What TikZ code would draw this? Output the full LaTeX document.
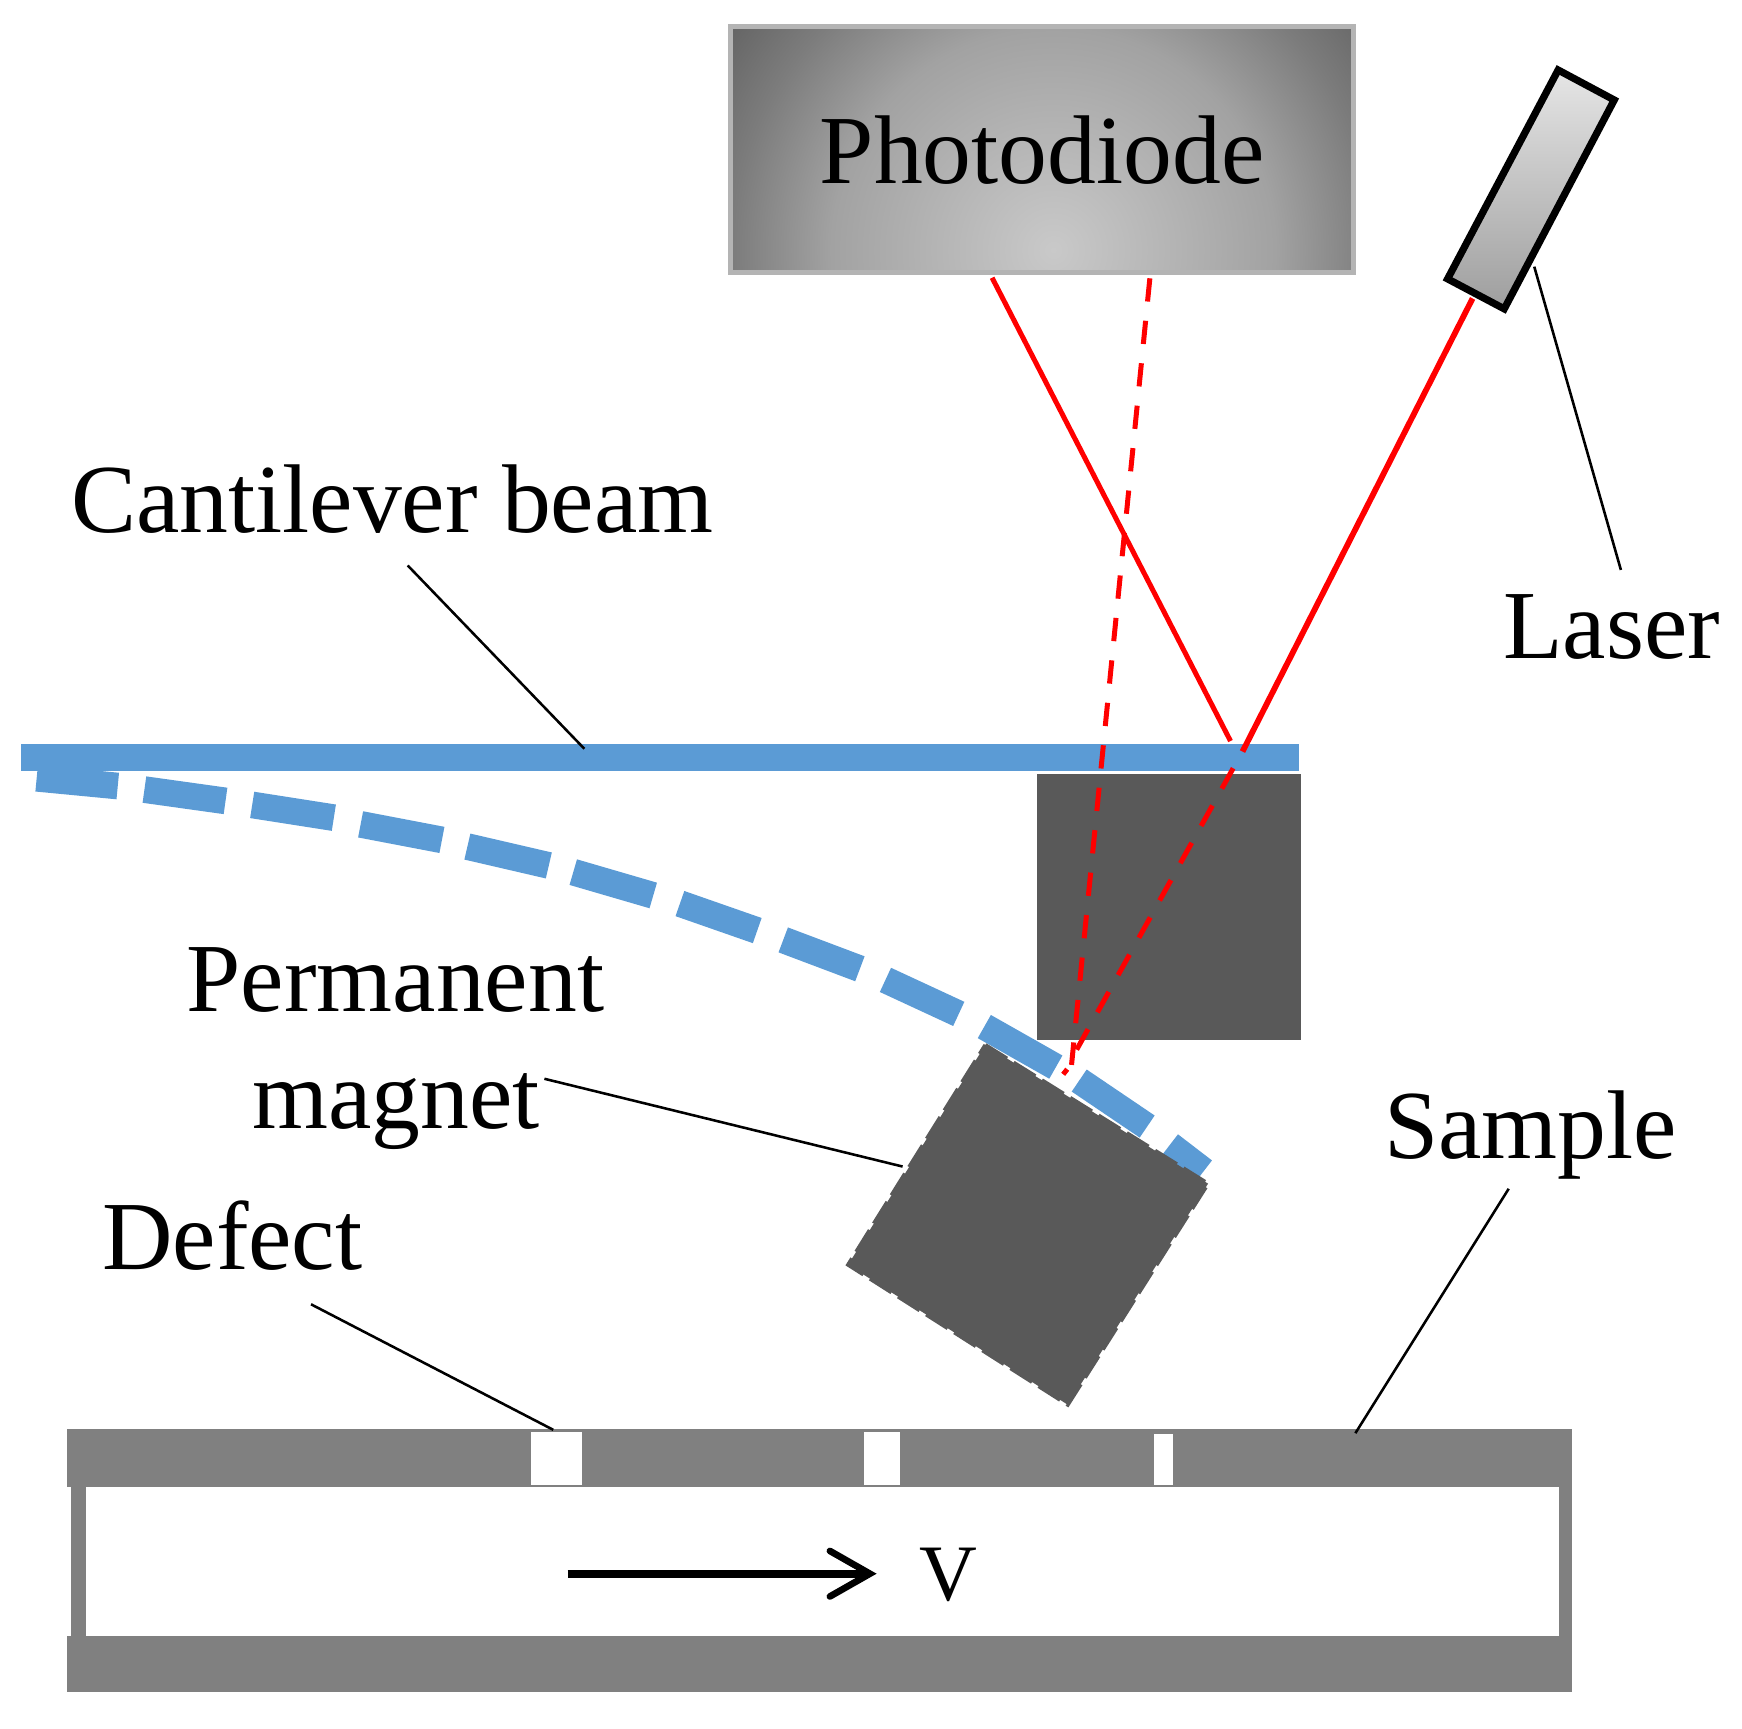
\documentclass[tikz,border=0pt]{standalone}
\usepackage{fontspec}
\setmainfont{Liberation Serif}
\definecolor{beamblue}{HTML}{5B9BD5}
\definecolor{darkblock}{HTML}{595959}
\definecolor{samplegray}{HTML}{808080}
\definecolor{pdborder}{HTML}{B4B4B4}
\definecolor{pdA}{HTML}{C9C9C9}
\definecolor{pdB}{HTML}{A2A2A2}
\definecolor{pdC}{HTML}{7C7C7C}
\definecolor{pdD}{HTML}{646464}
\pgfdeclareradialshading{pdshade}{\pgfpointorigin}{color(0bp)=(pdA); color(13.5bp)=(pdB); color(19.5bp)=(pdC); color(24bp)=(pdD); color(50bp)=(pdD)}
\tikzset{
  label text/.style={anchor=base west,inner sep=0pt,outer sep=0pt,font=\fontsize{25pt}{30pt}\selectfont,text=black},
  leader/.style={draw=black,line width=0.23mm},
  ray/.style={draw=red,line width=0.45mm},
  laser ray/.style={draw=red,line width=0.52mm},
  dashed ray/.style={draw=red,line width=0.45mm,dash pattern=on 2.1mm off 1.74mm},
  beam dash/.style={draw=beamblue,line width=2.4mm,line cap=butt},
  sample part/.style={fill=samplegray},
  defect gap/.style={fill=white}
}
\begin{document}
\begin{tikzpicture}[x=0.1mm,y=-0.1mm]
\useasboundingbox (0,0) rectangle (1568,1555.4);
% photodiode
\begin{scope}
  \clip (657.5,24) rectangle (1218.5,245);
  \shade[shading=pdshade] (578,-145) rectangle (1318,595);
\end{scope}
\draw[pdborder,line width=0.48mm] (657.5,24) rectangle (1218.5,245);
\node[label text] (photodiode) at (738,165) {Photodiode};
% laser
\path[draw=black,line width=0.65mm,top color=white!90!black,bottom color=black!38] (1402.5,63) -- (1453,90) -- (1354,278) -- (1303,251) -- cycle;
% dark block behind the beam
\fill[darkblock] (933.6,697) rectangle (1171,936);
% beam
\fill[beamblue] (19,670) rectangle (1169.5,694);
% deflected beam dashes
\draw[beam dash] (33,700.5) -- (106,707.5);
\draw[beam dash] (130,710.7) -- (203,720.9);
\draw[beam dash] (227,724.5) -- (300.5,736);
\draw[beam dash] (324.6,742) -- (397.8,756);
\draw[beam dash] (420.7,762) -- (494,779);
\draw[beam dash] (516,785) -- (588,806);
\draw[beam dash] (612,813.3) -- (681.6,837.6);
\draw[beam dash] (705,846) -- (774,872);
\draw[beam dash] (797,882) -- (863,912.6);
\draw[beam dash] (886,924) -- (950.4,960.5);
\draw[beam dash] (971.4,972.6) -- (1032.6,1014);
\draw[beam dash] (1053,1030.5) -- (1083.6,1054);
% magnet
\fill[darkblock] (886.9,940.6) -- (1087.4,1065.4) -- (961.1,1264.4) -- (763.4,1138.4) -- cycle;
\draw[darkblock,line width=0.35mm,dash pattern=on 2.3mm off 0.7mm] (886.9,940.6) -- (1087.4,1065.4) -- (961.1,1264.4) -- (763.4,1138.4) -- cycle;
% sample
\fill[sample part] (60,1286) rectangle (1415,1338.6);
\fill[sample part] (60,1473) rectangle (1415,1523);
\fill[sample part] (64,1338) rectangle (77,1474);
\fill[sample part] (1403,1338) rectangle (1415,1474);
\fill[defect gap] (478,1289) rectangle (524,1337);
\fill[defect gap] (778,1289) rectangle (810,1337);
\fill[defect gap] (1039,1291) rectangle (1056,1337);
% velocity arrow
\coordinate (vstart) at (511,1416.5);
\coordinate (vend) at (780,1416.5);
\draw[black,line width=0.75mm] (vstart) -- (vend);
\draw[black,line width=0.6mm,line cap=round,line join=miter] (747,1396) -- (783,1416.5) -- (747,1437);
\node[label text,font=\fontsize{20.5pt}{24pt}\selectfont] (vlabel) at (828,1441) {V};
% red rays
\coordinate (laserout) at (1325.5,268.6);
\coordinate (hitA) at (1118.4,676.5);
\coordinate (hitB) at (1107.6,667);
\coordinate (pdin) at (893,250);
\coordinate (pdinB) at (1035,250.5);
\coordinate (tipB) at (964.5,958.5);
\coordinate (rayC) at (1110,691.5);
\coordinate (tipC) at (969,945);
\draw[laser ray] (laserout) -- (hitA);
\draw[ray] (hitB) -- (pdin);
\draw[dashed ray] (pdinB) -- (tipB);
\draw[dashed ray] (rayC) -- (tipC);
\draw[ray] (960.6,962.4) -- (957,967);
% labels
\node[label text] (cantilever) at (64,479) {Cantilever beam};
\node[label text] (laserlabel) at (1353,593) {Laser};
\node[label text] (permanent) at (168,910) {Permanent};
\node[label text] (magnetlabel) at (227,1016) {magnet};
\node[label text] (defectlabel) at (92,1143) {Defect};
\node[label text] (samplelabel) at (1246,1043) {Sample};
% leaders
\coordinate (c1) at (367,509); \coordinate (c2) at (526,674);
\coordinate (l1) at (1381,240); \coordinate (l2) at (1459,513);
\coordinate (m1) at (490,971); \coordinate (m2) at (812.4,1050);
\coordinate (d1) at (280,1174); \coordinate (d2) at (498,1287);
\coordinate (s1) at (1358,1070); \coordinate (s2) at (1220,1290);
\draw[leader] (c1) -- (c2);
\draw[leader] (l1) -- (l2);
\draw[leader] (m1) -- (m2);
\draw[leader] (d1) -- (d2);
\draw[leader] (s1) -- (s2);
\end{tikzpicture}
\end{document}
